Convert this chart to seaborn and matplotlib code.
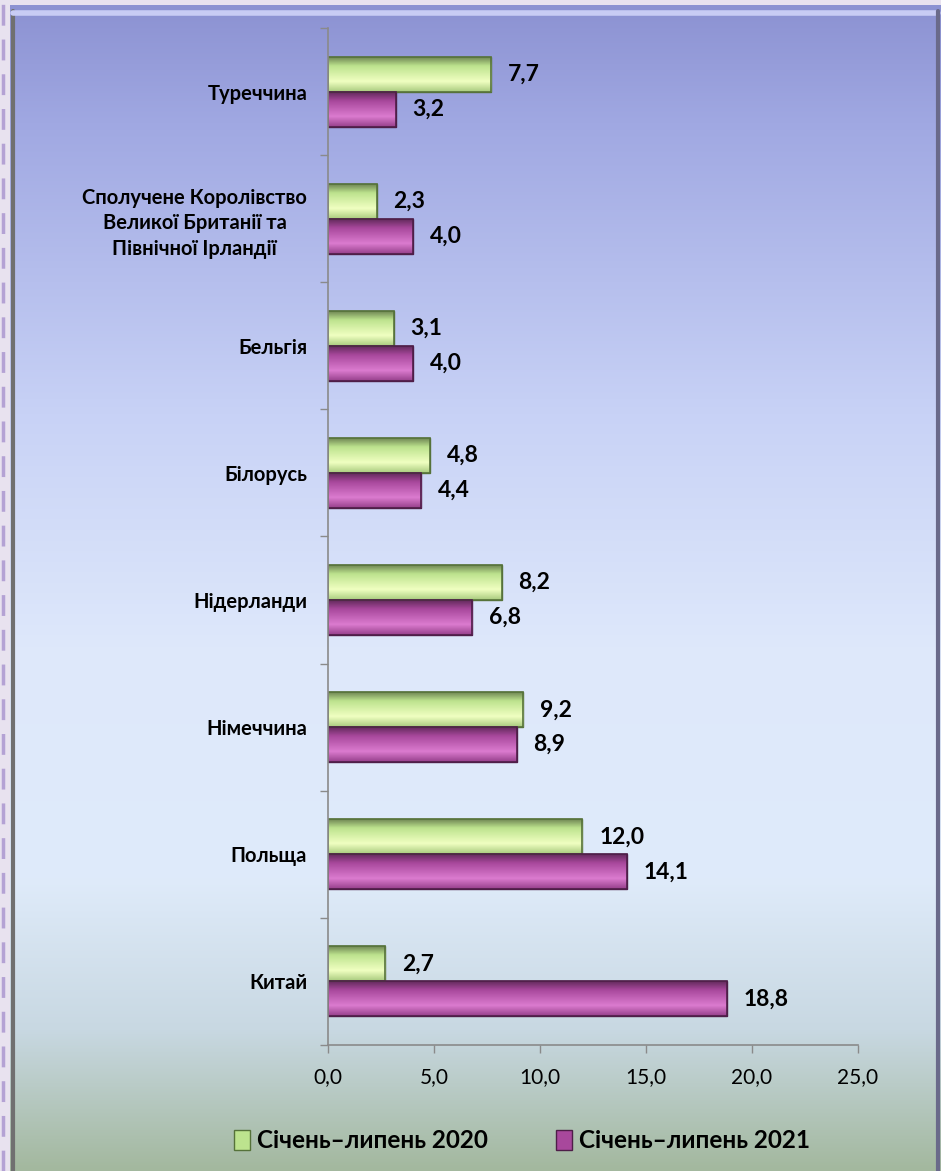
import numpy as np
import pandas as pd
import matplotlib.pyplot as plt
import matplotlib.colors as mcolors
from matplotlib.patches import Patch, Rectangle
import seaborn as sns

countries = ["Туреччина",
             "Сполучене Королівство\nВеликої Британії та\nПівнічної Ірландії",
             "Бельгія", "Білорусь", "Нідерланди", "Німеччина", "Польща", "Китай"]
share_2020 = [7.7, 2.3, 3.1, 4.8, 8.2, 9.2, 12.0, 2.7]
share_2021 = [3.2, 4.0, 4.0, 4.4, 6.8, 8.9, 14.1, 18.8]
periods = ["Січень–липень 2020", "Січень–липень 2021"]
x_ticks = [0, 5, 10, 15, 20, 25]

df = pd.DataFrame({
    "country": countries * 2,
    "value": share_2020 + share_2021,
    "period": [periods[0]] * len(countries) + [periods[1]] * len(countries),
})

green = "#bde38e"
purple = "#a8489c"

sns.set_theme(style="white")
plt.rcParams['font.family'] = ['Lato', 'DejaVu Sans']

fig = plt.figure(figsize=(9.41, 11.71), dpi=100)
fig.patch.set_facecolor('#e8e2ef')

# background panel with vertical gradient
bg = fig.add_axes([10 / 941, 0, 931 / 941, 1 - 5 / 1171], zorder=-10)
stops = [0.0, 0.1, 0.35, 0.55, 0.75, 0.88, 1.0]
stop_cols = [(140, 146, 210), (160, 168, 226), (200, 210, 246), (222, 232, 251),
             (223, 235, 250), (200, 216, 226), (163, 184, 158)]
t = np.linspace(0, 1, 400)
grad = np.stack([np.interp(t, stops, [c[i] / 255 for c in stop_cols]) for i in range(3)], axis=-1)
bg.imshow(grad[:, None, :], aspect='auto', extent=[0, 1, 0, 1], origin='upper')
bg.plot([0.003, 0.003], [0, 0.995], color='#707070', lw=3)
bg.plot([0.003, 0.997], [0.993, 0.993], color='#c8ccf4', lw=4)
bg.plot([0.997, 0.997], [0, 0.995], color='#6a6a8a', lw=3)
bg.set_xlim(0, 1)
bg.set_ylim(0, 1)
bg.axis('off')

# dashed line on the left strip
strip = fig.add_axes([0, 0, 10 / 941, 1], zorder=-11)
strip.set_facecolor('#e8e2ef')
strip.plot([0.3, 0.3], [0, 1], color='#b4a2d4', lw=2.5, ls=(0, (6, 4)))
strip.set_xlim(0, 1)
strip.set_ylim(0, 1)
strip.axis('off')

ax = fig.add_axes([328 / 941, 1 - 1045 / 1171, 530 / 941, 1017 / 1171])
ax.patch.set_alpha(0)

sns.barplot(data=df, y="country", x="value", hue="period", palette=[green, purple],
            width=0.55, ax=ax, legend=False, saturation=1, orient='h')

edge_cols = ["#56723a", "#4e1e48"]
for cont, ec, base in zip(ax.containers, edge_cols, [green, purple]):
    rgb = np.array(mcolors.to_rgb(base))
    light = np.clip(rgb + 0.2, 0, 1)
    dark = rgb * 0.6
    g = np.linspace(0, 1, 50)
    shade = np.array([np.interp(g, [0, 0.25, 0.7, 1], [dark[i], rgb[i], light[i], rgb[i] * 0.9])
                      for i in range(3)]).T
    for p in cont.patches:
        p.set_edgecolor(ec)
        p.set_linewidth(1)
        x0, y0, w, h = p.get_x(), p.get_y(), p.get_width(), p.get_height()
        im = ax.imshow(shade[:, None, :], aspect='auto', extent=[x0, x0 + w, y0, y0 + h],
                       origin='lower', zorder=p.get_zorder() + 0.1)
        im.set_clip_path(p)
        ax.add_patch(Rectangle((x0, y0), w, h, fill=False, edgecolor=ec, lw=1.2,
                               zorder=p.get_zorder() + 0.2))

for cont, vals in zip(ax.containers, [share_2020, share_2021]):
    ax.bar_label(cont, labels=[f"{v:.1f}".replace('.', ',') for v in vals], padding=12,
                 fontsize=16.5, fontweight='bold', color='black')

ax.set_xlim(0, 25)
ax.set_ylim(len(countries) - 0.5, -0.5)
ax.set_xticks(x_ticks)
ax.set_xticklabels([f"{v:.1f}".replace('.', ',') for v in x_ticks], fontsize=15, color='black')
ax.set_yticks(range(len(countries)))
ax.set_yticklabels(countries, fontsize=14.5, fontweight='bold', multialignment='center',
                   linespacing=1.35, color='black')
ax.set_yticks(np.arange(-0.5, len(countries), 1), minor=True)
ax.tick_params(axis='y', which='major', length=0, pad=15)
ax.tick_params(axis='y', which='minor', length=6, color='#8a8a8a', width=1, direction='out', left=True)
ax.tick_params(axis='x', length=6, color='#8a8a8a', width=1, direction='out', bottom=True, pad=10)
ax.set_xlabel("")
ax.set_ylabel("")
for side in ['top', 'right']:
    ax.spines[side].set_visible(False)
for side in ['left', 'bottom']:
    ax.spines[side].set_color('#8a8a8a')
    ax.spines[side].set_linewidth(1.2)

handles = [Patch(facecolor=green, edgecolor=edge_cols[0]), Patch(facecolor=purple, edgecolor=edge_cols[1])]
leg = fig.legend(handles, periods, loc='center', bbox_to_anchor=(522 / 941, 1 - 1141 / 1171), ncol=2,
                 frameon=False, prop={'size': 17.5, 'weight': 'bold'}, handlelength=0.65,
                 handleheight=0.9, columnspacing=2.8, handletextpad=0.3)
for txt in leg.get_texts():
    txt.set_color('black')

fig.savefig("out.png", dpi=100)
